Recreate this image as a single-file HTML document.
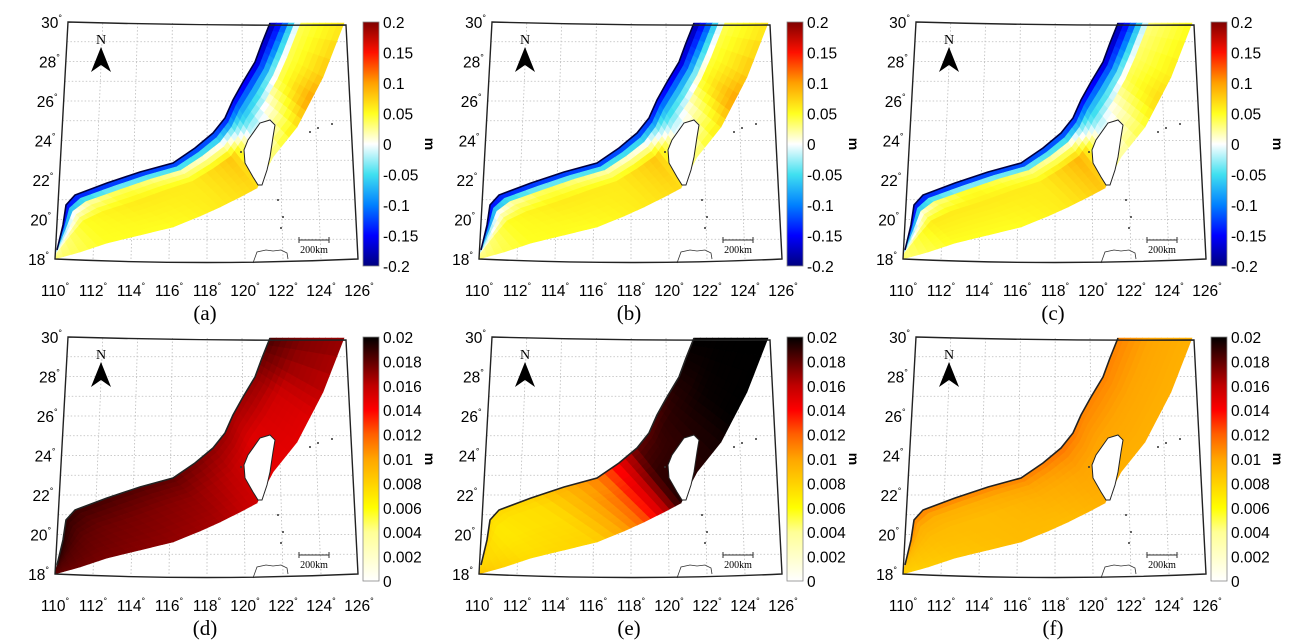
<!DOCTYPE html>
<html><head><meta charset="utf-8"><style>
html,body{margin:0;padding:0;background:#fff;}
svg{display:block;}
text{font-family:"Liberation Sans",sans-serif;}
</style></head>
<body>
<svg id="fig" width="1295" height="644" viewBox="0 0 1295 644"></svg>
<script>
// Data: 8 nodes along the shelf band (SW -> NE), 4 rows across (coast -> offshore)
const alongNodes = [0,1,2,3,4,5,6,7];
const aCoast=[-0.17,-0.18,-0.17,-0.16,-0.15,-0.16,-0.18,-0.19];
const aNear =[-0.04,0.0,0.04,0.02,0.0,-0.08,-0.08,-0.12];
const aMid  =[0.02,0.05,0.06,0.06,0.08,-0.03,0.04,0.04];
const aOff  =[0.03,0.05,0.05,0.06,0.07,0.03,0.1,0.06];
const bCoast=[-0.17,-0.18,-0.17,-0.16,-0.15,-0.16,-0.18,-0.19];
const bNear =[-0.05,0.0,0.04,0.02,0.0,-0.07,-0.08,-0.12];
const bMid  =[0.02,0.05,0.06,0.06,0.08,-0.02,0.05,0.04];
const bOff  =[0.03,0.05,0.05,0.06,0.07,0.03,0.1,0.06];
const cCoast=[-0.17,-0.18,-0.17,-0.16,-0.15,-0.16,-0.18,-0.19];
const cNear =[-0.05,0.01,0.05,0.03,0.01,-0.07,-0.08,-0.12];
const cMid  =[0.03,0.06,0.06,0.06,0.09,-0.02,0.04,0.03];
const cOff  =[0.03,0.05,0.05,0.06,0.08,0.02,0.07,0.05];
const dCoast=[0.0195,0.019,0.0185,0.018,0.017,0.0165,0.017,0.0185];
const dNear =[0.019,0.0185,0.018,0.0175,0.0165,0.016,0.0165,0.018];
const dMid  =[0.0185,0.018,0.0175,0.017,0.016,0.015,0.0155,0.0175];
const dOff  =[0.018,0.0175,0.017,0.0165,0.0155,0.0148,0.015,0.017];
const eCoast=[0.009,0.0075,0.008,0.011,0.018,0.0185,0.0195,0.02];
const eNear =[0.008,0.007,0.0075,0.011,0.0185,0.019,0.0195,0.02];
const eMid  =[0.008,0.007,0.0075,0.0115,0.019,0.019,0.0198,0.02];
const eOff  =[0.0085,0.0075,0.008,0.012,0.0192,0.0192,0.02,0.02];
const fCoast=[0.0105,0.011,0.011,0.011,0.0115,0.011,0.011,0.011];
const fNear =[0.009,0.0095,0.0095,0.01,0.0105,0.0105,0.0105,0.0105];
const fMid  =[0.0085,0.009,0.009,0.0095,0.01,0.01,0.01,0.01];
const fOff  =[0.008,0.0085,0.009,0.009,0.0095,0.0095,0.0095,0.0095];
const jetTicks=["0.2","0.15","0.1","0.05","0","-0.05","-0.1","-0.15","-0.2"];
const hotTicks=["0.02","0.018","0.016","0.014","0.012","0.01","0.008","0.006","0.004","0.002","0"];
const lonTicks=[110,112,114,116,118,120,122,124,126];
const latTicks=[30,28,26,24,22,20,18];

const NS="http://www.w3.org/2000/svg";
const svg=document.getElementById('fig');
function mk(tag,attrs,parent){const e=document.createElementNS(NS,tag);for(const k in attrs)e.setAttribute(k,attrs[k]);(parent||svg).appendChild(e);return e;}

const C=[[57,250],[63,225],[66,205],[75,195],[107,183],[140,172],[173,163],[195,148],[213,133],[225,118],[233,100],[243,82],[255,62],[262,43],[270,23]];
const O=[[55,259],[80,252],[107,243],[140,235],[173,227],[200,216],[220,207],[240,197],[257,188],[265,172],[273,157],[297,127],[310,102],[323,77],[344,23]];
const TW=[[270,120],[275,125],[273,137],[270,157],[267,170],[262,185],[258,185],[253,177],[245,163],[244,150],[248,140],[260,123]];
const ROWPOS=[0,0.2,0.45,1];

const jetStops=[[0,[0,0,127]],[0.125,[0,0,255]],[0.25,[0,128,255]],[0.375,[64,224,240]],[0.5,[255,255,255]],[0.625,[255,255,32]],[0.75,[255,160,0]],[0.875,[255,16,0]],[1,[127,0,0]]];
const hotStops=[[0,[255,255,255]],[0.2,[255,255,150]],[0.3,[255,255,0]],[0.5,[255,165,0]],[0.6,[255,96,0]],[0.7,[255,0,0]],[0.8,[192,0,0]],[0.9,[96,0,0]],[1,[0,0,0]]];
function cmap(stops,t){t=Math.max(0,Math.min(1,t));for(let i=1;i<stops.length;i++){if(t<=stops[i][0]){const a=stops[i-1],b=stops[i];const f=(t-a[0])/(b[0]-a[0]);const c=a[1].map((v,k)=>Math.round(v+(b[1][k]-v)*f));return `rgb(${c[0]},${c[1]},${c[2]})`;}}const c=stops[stops.length-1][1];return `rgb(${c[0]},${c[1]},${c[2]})`;}
function polyAt(P,s){const i=Math.min(P.length-2,Math.floor(s));const f=s-i;return [P[i][0]+(P[i+1][0]-P[i][0])*f,P[i][1]+(P[i+1][1]-P[i][1])*f];}
function bandPt(u,v){const s=u*(C.length-1);const a=polyAt(C,s),b=polyAt(O,s);return [a[0]+(b[0]-a[0])*v,a[1]+(b[1]-a[1])*v];}
function interp(arr,u){const k=u*(arr.length-1);const i=Math.min(arr.length-2,Math.floor(k));const f=k-i;return arr[i]+(arr[i+1]-arr[i])*f;}
function interpPos(vals,v){for(let i=1;i<ROWPOS.length;i++){if(v<=ROWPOS[i]){const f=(v-ROWPOS[i-1])/(ROWPOS[i]-ROWPOS[i-1]);return vals[i-1]+(vals[i]-vals[i-1])*f;}}return vals[vals.length-1];}
function value(rows,u,v){const vals=rows.map(r=>interp(r,u));return interpPos(vals,v);}
function geo(lon,lat){const t=(lat-18)/12;const x=(55+(lon-110)*19)*(1-t)+(68+(lon-110)*17.4)*t;return [x,259-t*237];}

const panels=[
 {id:'a',dx:0,dy:0,rows:[aCoast,aNear,aMid,aOff],jet:true},
 {id:'b',dx:424,dy:0,rows:[bCoast,bNear,bMid,bOff],jet:true},
 {id:'c',dx:848,dy:0,rows:[cCoast,cNear,cMid,cOff],jet:true},
 {id:'d',dx:0,dy:315,rows:[dCoast,dNear,dMid,dOff],jet:false},
 {id:'e',dx:424,dy:315,rows:[eCoast,eNear,eMid,eOff],jet:false},
 {id:'f',dx:848,dy:315,rows:[fCoast,fNear,fMid,fOff],jet:false}
];

panels.forEach(p=>{
 const g=mk('g',{transform:`translate(${p.dx},${p.dy})`});
 
 
 const stops=p.jet?jetStops:hotStops;
 const vmin=p.jet?-0.2:0, vmax=p.jet?0.2:0.02;
 const grid=mk('g',{stroke:'#bbb','stroke-width':0.8,'stroke-dasharray':'1.5,2',fill:'none'},g);
 
 
 for(let lat=19;lat<30;lat++){const a=geo(110,lat),b=geo(126,lat);mk('line',{x1:a[0],y1:a[1],x2:b[0],y2:b[1]},grid);}
 for(let lon=112;lon<126;lon+=2){const a=geo(lon,18),b=geo(lon,30);mk('line',{x1:a[0],y1:a[1],x2:b[0],y2:b[1]},grid);}
 const cells=mk('g',{},g);
 
 
 const NI=42,NJ=12;
 for(let i=0;i<NI;i++)for(let j=0;j<NJ;j++){
  const u0=i/NI,u1=(i+1)/NI,v0=j/NJ,v1=(j+1)/NJ;
  const pts=[bandPt(u0,v0),bandPt(u1,v0),bandPt(u1,v1),bandPt(u0,v1)];
  const val=value(p.rows,(u0+u1)/2,(v0+v1)/2);
  const col=cmap(stops,(val-vmin)/(vmax-vmin));
  const c=mk('polygon',{points:pts.map(q=>q.join(',')).join(' '),fill:col,stroke:col,'stroke-width':0.6},cells);
  
  
 }
 const coast=mk('polyline',{points:C.map(q=>q.join(',')).join(' '),fill:'none',stroke:p.jet?'#000040':'#222','stroke-width':1.6},g);
 
 
 const tw=mk('polygon',{points:TW.map(q=>q.join(',')).join(' '),fill:'#fff',stroke:'#222','stroke-width':1},g);
 
 
 const lz=mk('path',{d:'M253,263 L257,252 L266,250 L273,251 L281,250 L287,253 L288,259',fill:'none',stroke:'#333','stroke-width':0.8},g);
 
 
 [[278,200],[283,217],[281,228],[310,132],[318,128],[332,124],[241,152]].forEach(q=>{const d=mk('circle',{cx:q[0],cy:q[1],r:1,fill:'#333'},g);});
 const fr=mk('path',{d:'M68,22 Q207,26 346,25 L358,259 Q207,266 55,259 Z',fill:'none',stroke:'#222','stroke-width':1.4},g);
 
 
 const nt=mk('text',{x:101,y:44,'font-size':14,'text-anchor':'middle',style:'font-family:"Liberation Serif",serif'},g);nt.textContent='N';
 
 
 const na=mk('polygon',{points:'101,47 111,72 101,65 91,72',fill:'#000'},g);
 
 
 const sb=mk('path',{d:'M299,240 L329,240 M299,237 L299,243 M329,237 L329,243',stroke:'#333','stroke-width':1,fill:'none'},g);
 
 
 const st=mk('text',{x:314,y:253,'font-size':10,'text-anchor':'middle',style:'font-family:"Liberation Serif",serif'},g);st.textContent='200km';
 
 
 lonTicks.forEach(lon=>{const x=55+(lon-110)*19;const t=mk('text',{x:x,y:296,'font-size':15.5,'text-anchor':'middle'},g);t.textContent=lon;const s=mk('tspan',{dy:-7,'font-size':9},t);s.textContent='°';});
 latTicks.forEach(lat=>{const q=geo(110,lat);const t=mk('text',{x:q[0]-6,y:q[1]+6,'font-size':15.5,'text-anchor':'end'},g);t.textContent=lat;const s=mk('tspan',{dy:-7,'font-size':9},t);s.textContent='°';});
 const gid='grad'+p.id;
 const lg=mk('linearGradient',{id:gid,x1:0,y1:1,x2:0,y2:0},mk('defs',{},g));
 stops.forEach(s=>mk('stop',{offset:s[0],'stop-color':cmap(stops,s[0])},lg));
 const cb=mk('rect',{x:363,y:22,width:16,height:244,fill:`url(#${gid})`,stroke:'#888','stroke-width':0.8},g);
 
 
 const ticks=p.jet?jetTicks:hotTicks;
 ticks.forEach((tk,i)=>{const y=22+i*244/(ticks.length-1);const t=mk('text',{x:383,y:y+6,'font-size':15.5},g);t.textContent=tk;});
 const m=mk('text',{x:0,y:0,'font-size':14,'font-weight':'bold','text-anchor':'middle',transform:'translate(425,144) rotate(90)'},g);m.textContent='m';
 
 
 const pl=mk('text',{x:205,y:320,'font-size':21,'text-anchor':'middle',style:'font-family:"Liberation Serif",serif'},g);pl.textContent='('+p.id+')';
 
 
});
</script>
</body></html>
